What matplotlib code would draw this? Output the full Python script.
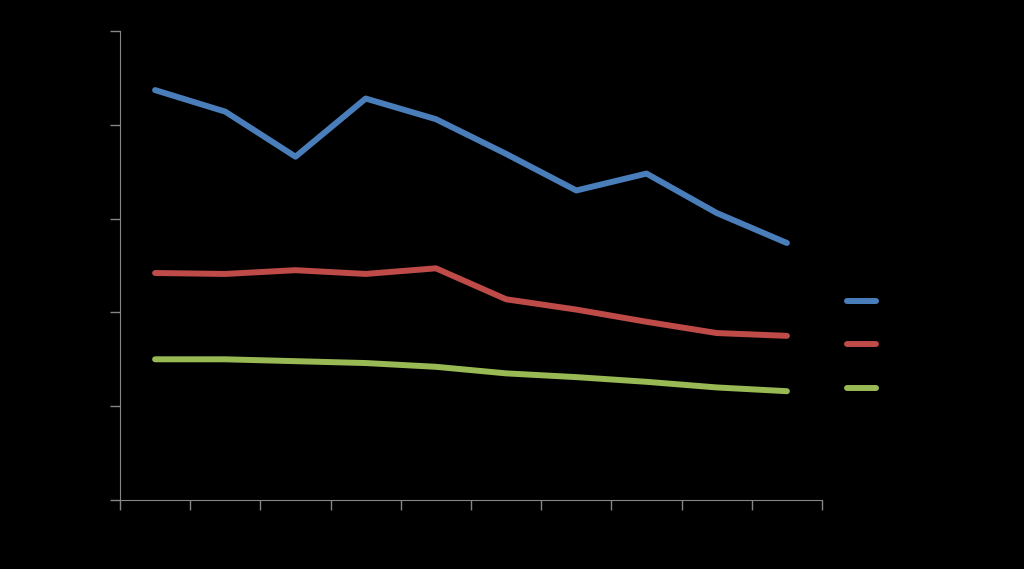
import numpy as np
import matplotlib.pyplot as plt

# values (y axis 0-50, 10 categories)
categories = ["1", "2", "3", "4", "5", "6", "7", "8", "9", "10"]
series_a = [43.7, 41.4, 36.6, 42.8, 40.6, 36.9, 33.0, 34.8, 30.6, 27.4]
series_b = [24.2, 24.1, 24.5, 24.1, 24.7, 21.4, 20.3, 19.0, 17.8, 17.5]
series_c = [15.0, 15.0, 14.8, 14.6, 14.2, 13.5, 13.1, 12.6, 12.0, 11.6]
series_names = ["Series 1", "Series 2", "Series 3"]
colors = ["#4a7ebb", "#be4b48", "#98b954"]

fig = plt.figure(figsize=(10.24, 5.69), dpi=100, facecolor="black")
ax = fig.add_axes([120 / 1024, 69 / 569, 702 / 1024, 469 / 569])
ax.set_facecolor("black")

x = np.arange(len(categories)) + 0.5
lines = []
for vals, c, name in zip([series_a, series_b, series_c], colors, series_names):
    ln, = ax.plot(x, vals, color=c, lw=4.3, solid_capstyle="round",
                  solid_joinstyle="round", label=name)
    lines.append(ln)

ax.set_xlim(0, len(categories))
ax.set_ylim(0, 50)
ax.set_xticks(np.arange(len(categories) + 1))
ax.set_yticks(np.arange(0, 51, 10))
ax.tick_params(colors="#868686", length=7, width=1, labelcolor="black",
               labelsize=1)
ax.set_xticklabels([])
ax.set_yticklabels([])
for side in ["top", "right"]:
    ax.spines[side].set_visible(False)
for side in ["left", "bottom"]:
    ax.spines[side].set_color("#868686")

leg = fig.legend(handles=lines, labels=series_names, loc="center left",
                 bbox_to_anchor=(0.814, 0.3937), frameon=False,
                 handlelength=1.9, labelspacing=1.86, fontsize=11)
for t in leg.get_texts():
    t.set_color("black")

fig.savefig("out.png", facecolor="black")
